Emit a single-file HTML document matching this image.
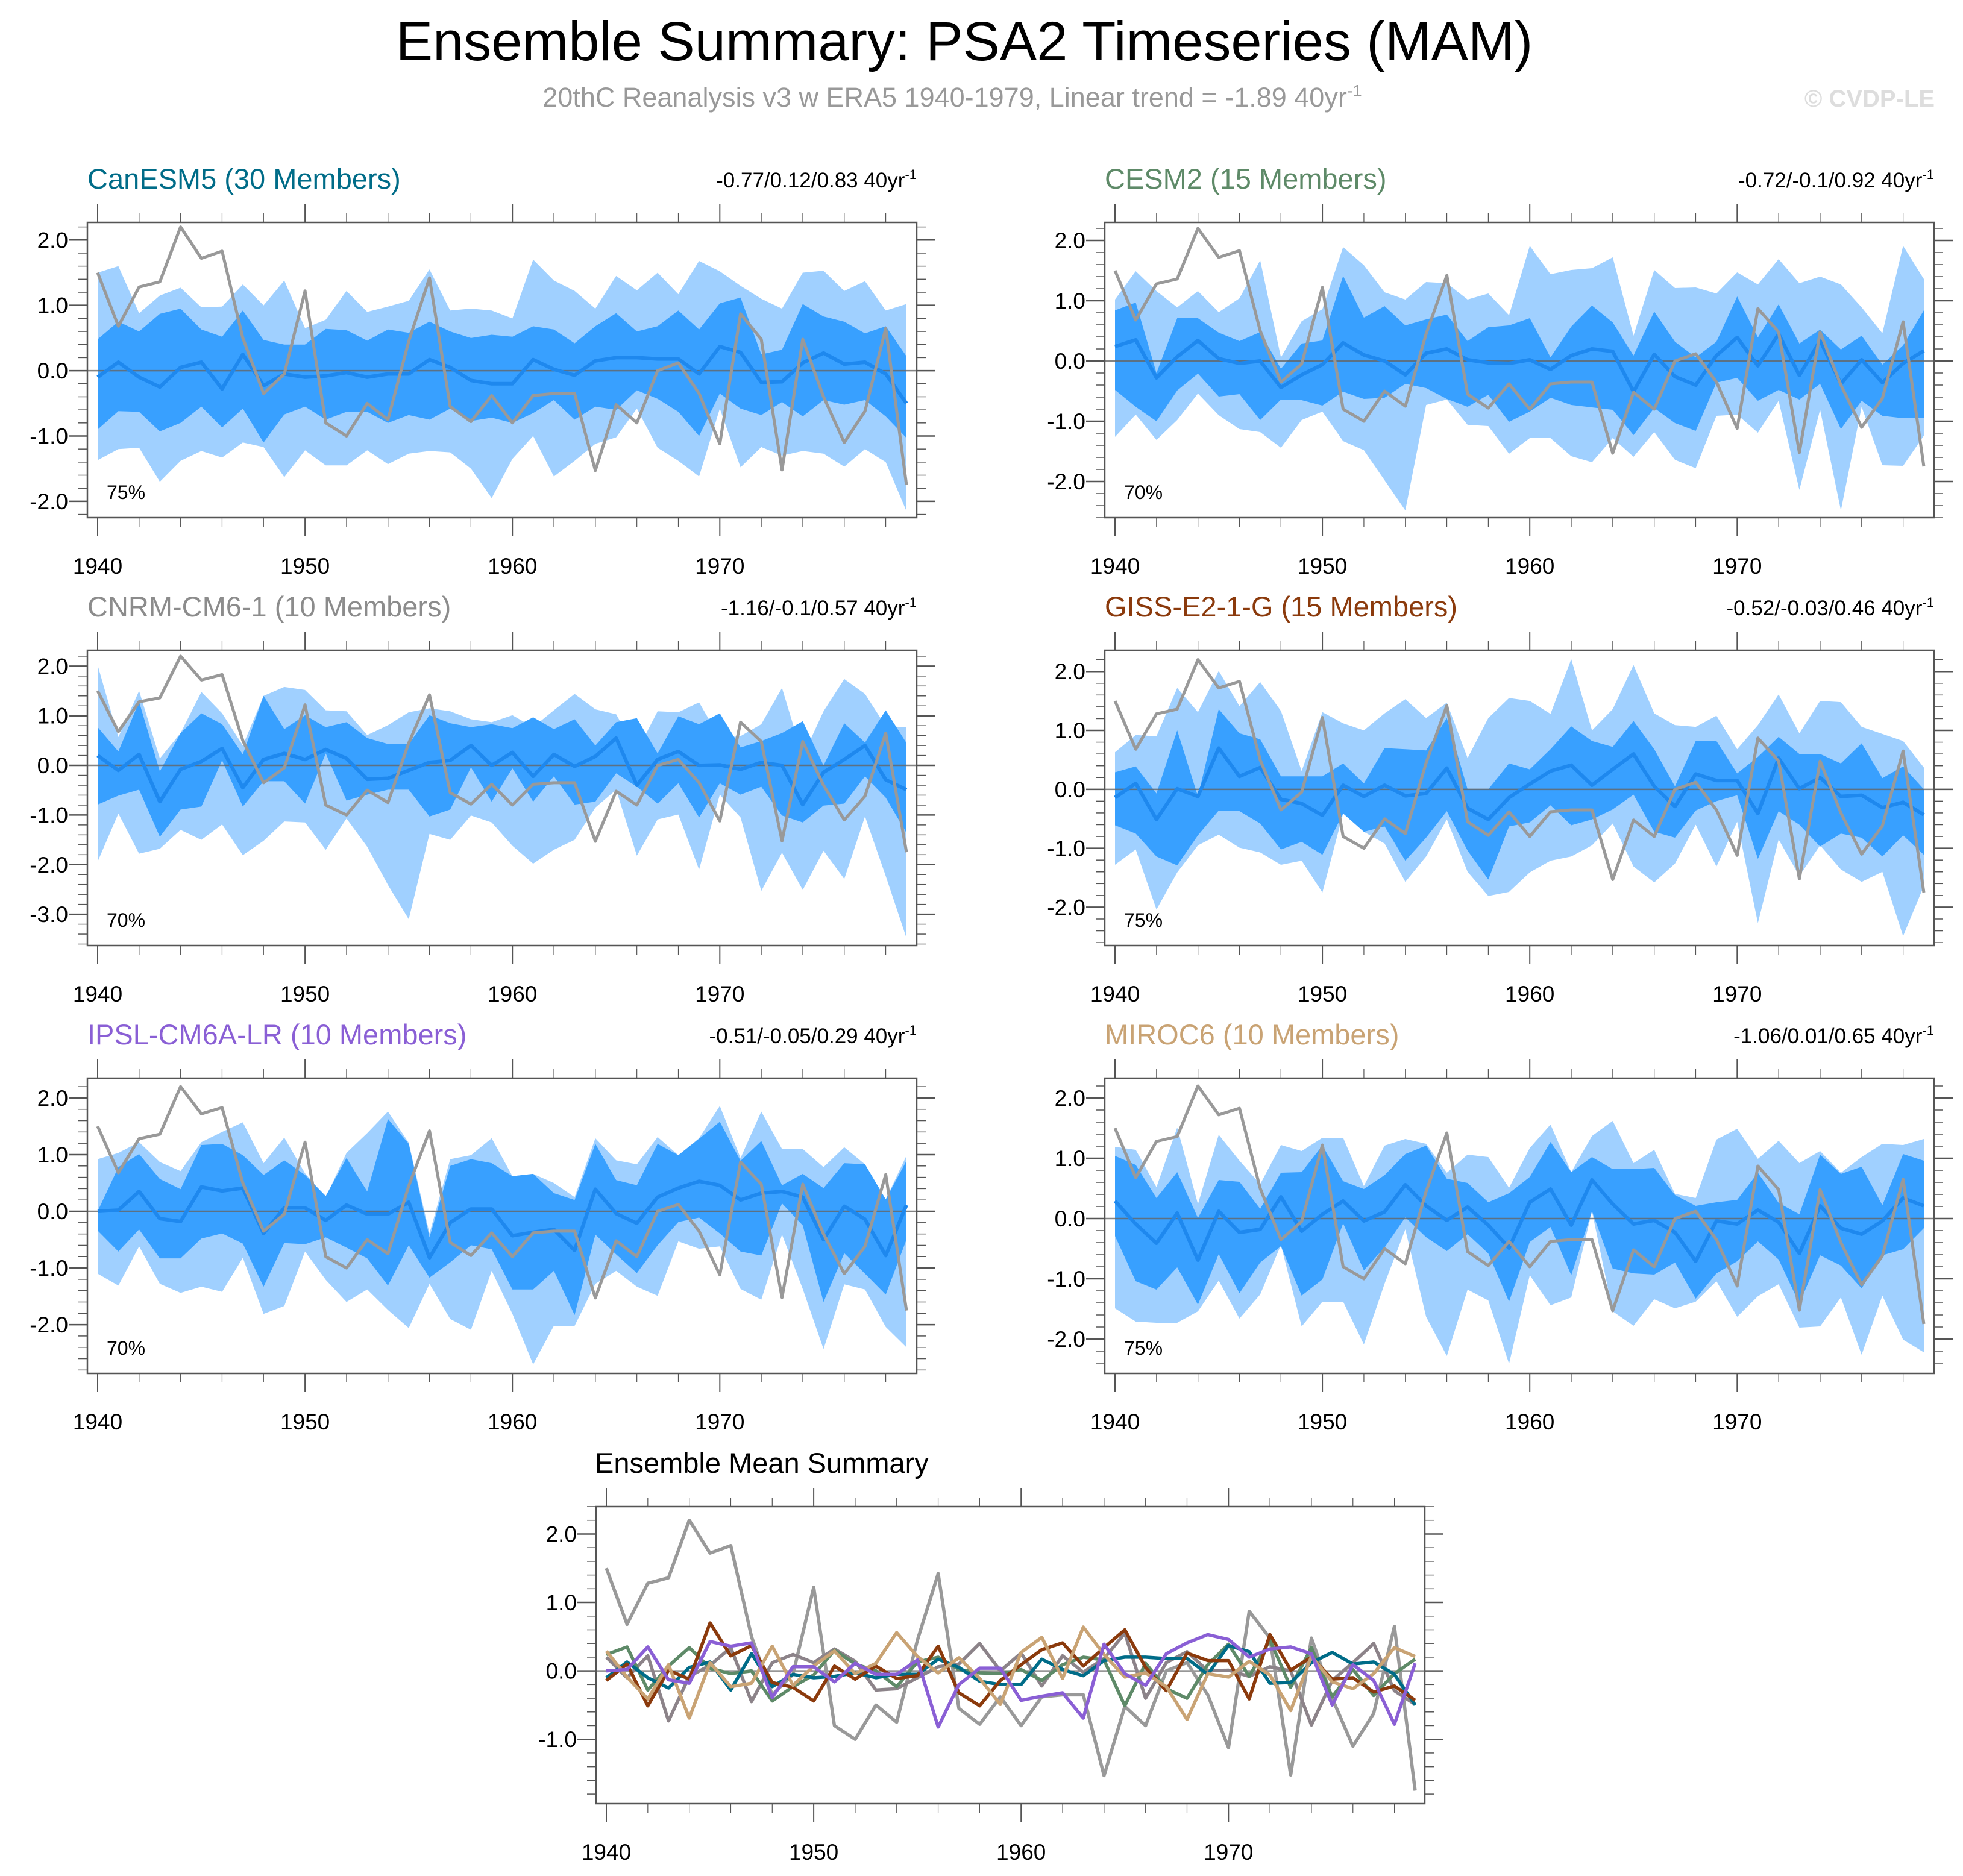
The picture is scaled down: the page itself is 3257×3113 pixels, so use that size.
<!DOCTYPE html>
<html><head><meta charset="utf-8">
<style>
html,body{margin:0;padding:0;background:#fff;}
svg{display:block;font-family:"Liberation Sans",Arial,sans-serif;}
</style></head>
<body>
<svg id="fig" width="3257" height="3113" viewBox="0 0 3257 3113" xmlns="http://www.w3.org/2000/svg">
<rect x="0" y="0" width="3257" height="3113" fill="#fff"/>
<text x="1600" y="100" font-size="92" text-anchor="middle" fill="#000">Ensemble Summary: PSA2 Timeseries (MAM)</text>
<text x="1580" y="177" font-size="45" text-anchor="middle" fill="#999">20thC Reanalysis v3 w ERA5 1940-1979, Linear trend = -1.89 40yr<tspan dy="-17" font-size="28">-1</tspan></text>
<text x="3210" y="177" font-size="40" font-weight="bold" text-anchor="end" fill="#ddd">© CVDP-LE</text>
</svg>
<script>
const years = [];
for (let y = 1940; y <= 1979; y++) years.push(y);
const obs = [1.5,0.68,1.28,1.36,2.2,1.72,1.83,0.5,-0.35,-0.05,1.22,-0.8,-1.0,-0.5,-0.75,0.45,1.42,-0.55,-0.78,-0.38,-0.8,-0.38,-0.35,-0.35,-1.53,-0.52,-0.8,0.0,0.12,-0.35,-1.12,0.87,0.48,-1.52,0.48,-0.4,-1.1,-0.62,0.65,-1.75];

const canMean = [-0.1,0.13,-0.1,-0.25,0.05,0.13,-0.28,0.25,-0.23,-0.05,-0.1,-0.08,-0.03,-0.1,-0.05,-0.05,0.17,0.05,-0.15,-0.2,-0.2,0.17,0.02,-0.07,0.15,0.2,0.2,0.18,0.18,-0.05,0.37,0.28,-0.18,-0.17,0.12,0.27,0.1,0.13,-0.05,-0.5];
const canDU = [0.48,0.75,0.6,0.87,0.95,0.63,0.52,0.92,0.47,0.4,0.4,0.64,0.62,0.46,0.63,0.58,0.75,0.6,0.5,0.55,0.52,0.68,0.63,0.42,0.68,0.88,0.6,0.68,0.92,0.63,1.03,1.12,0.25,0.32,1.02,0.83,0.75,0.57,0.68,0.22];
const canDL = [-0.9,-0.62,-0.63,-0.93,-0.8,-0.55,-0.87,-0.58,-1.1,-0.67,-0.55,-0.75,-0.63,-0.63,-0.8,-0.68,-0.75,-0.58,-0.77,-0.72,-0.8,-0.65,-0.45,-0.75,-0.55,-0.6,-0.3,-0.43,-0.63,-1.0,-0.35,-0.58,-0.68,-0.48,-0.7,-0.45,-0.52,-0.45,-0.7,-1.03];
const canLU = [1.5,1.6,0.88,1.15,1.27,0.97,0.98,1.32,1.0,1.38,0.65,0.78,1.22,0.9,0.98,1.07,1.55,0.92,0.95,0.92,0.8,1.7,1.38,1.22,0.95,1.45,1.23,1.5,1.17,1.68,1.52,1.3,1.1,0.95,1.5,1.53,1.22,1.37,0.92,1.02];
const canLL = [-1.37,-1.2,-1.18,-1.7,-1.38,-1.23,-1.33,-1.1,-1.17,-1.63,-1.22,-1.45,-1.45,-1.22,-1.43,-1.27,-1.23,-1.25,-1.5,-1.95,-1.35,-1.0,-1.62,-1.38,-1.12,-1.02,-0.58,-1.18,-1.38,-1.62,-0.58,-1.48,-1.17,-1.3,-1.23,-1.27,-1.47,-1.2,-1.4,-2.15];

const cesMean = [0.24,0.35,-0.28,0.07,0.34,0.04,-0.04,0.0,-0.44,-0.23,-0.06,0.3,0.1,0.0,-0.23,0.13,0.2,0.02,-0.03,-0.04,0.02,-0.14,0.09,0.2,0.16,-0.51,0.11,-0.26,-0.4,0.09,0.39,-0.08,0.45,-0.24,0.34,-0.38,0.02,-0.36,-0.04,0.17];
const cesDU = [0.84,0.97,-0.2,0.71,0.71,0.47,0.33,0.48,-0.13,0.29,0.34,1.41,0.72,0.91,0.59,0.69,0.77,0.33,0.56,0.59,0.71,0.06,0.57,0.92,0.64,0.09,0.82,0.32,0.06,0.32,1.07,0.39,0.94,0.29,0.52,0.19,0.42,-0.06,0.26,0.84];
const cesDL = [-0.48,-0.76,-1.0,-0.49,-0.21,-0.59,-0.55,-0.98,-0.64,-0.65,-0.74,-0.51,-0.63,-0.61,-0.38,-0.45,-0.63,-0.76,-0.56,-1.01,-0.84,-0.61,-0.73,-0.77,-0.81,-1.23,-0.78,-1.03,-1.16,-0.36,-0.28,-0.66,-0.48,-0.64,-0.38,-1.13,-0.66,-0.91,-0.95,-0.95];
const cesLU = [1.02,1.49,1.16,0.89,1.16,0.81,1.04,1.67,0.06,0.66,0.86,1.89,1.59,1.14,1.02,1.31,1.29,1.02,1.12,0.76,1.91,1.44,1.51,1.54,1.72,0.42,1.51,1.21,1.22,1.12,1.47,1.27,1.69,1.29,1.4,1.27,0.89,0.46,1.91,1.36];
const cesLL = [-1.26,-0.89,-1.31,-0.98,-0.54,-0.9,-1.13,-1.18,-1.44,-0.98,-0.84,-1.33,-1.48,-1.98,-2.48,-0.73,-0.64,-1.06,-1.08,-1.54,-1.28,-1.28,-1.58,-1.68,-1.28,-1.59,-1.18,-1.64,-1.78,-0.91,-0.89,-1.19,-0.66,-2.14,-0.81,-2.48,-0.76,-1.73,-1.74,-1.24];

const cnrmMean = [0.2,-0.1,0.22,-0.73,-0.08,0.08,0.34,-0.45,0.12,0.24,0.12,0.32,0.14,-0.28,-0.26,-0.1,0.06,0.1,0.4,0.0,0.26,-0.22,0.22,-0.02,0.18,0.55,-0.4,0.12,0.28,0.0,0.01,-0.08,0.06,0.0,-0.79,-0.14,0.12,0.4,-0.29,-0.49];
const cnrmDU = [0.77,0.28,1.28,-0.12,0.65,1.05,0.83,0.22,1.40,0.73,1.01,0.77,0.87,0.55,0.43,0.43,1.01,0.85,0.77,0.83,0.75,0.97,0.73,0.93,0.40,0.87,0.95,0.24,0.99,0.83,1.05,0.36,0.49,0.65,0.89,0.0,0.85,0.46,1.11,0.45];
const cnrmDL = [-0.79,-0.61,-0.49,-1.44,-0.89,-0.83,0.1,-0.83,-0.32,-0.32,-0.77,0.24,-0.71,-0.59,-0.49,-0.49,-1.03,-0.89,-0.04,-0.73,-0.06,-0.73,-0.22,-0.79,-0.73,-0.16,-0.43,-0.77,-0.36,-1.05,-0.36,-0.59,-0.43,-1.01,-1.15,-0.81,-0.77,-0.22,-0.65,-1.36];
const cnrmLU = [2.02,0.57,1.5,0.14,0.65,1.48,1.05,0.4,1.4,1.58,1.52,1.11,1.09,0.61,0.81,1.07,1.15,1.09,0.93,0.87,1.01,0.77,1.11,1.44,1.13,1.03,0.28,1.09,1.07,1.27,0.55,0.59,0.83,1.56,0.18,1.09,1.74,1.44,0.79,0.77];
const cnrmLL = [-1.94,-0.97,-1.78,-1.68,-1.3,-1.5,-1.19,-1.81,-1.52,-1.13,-1.15,-1.7,-1.07,-1.64,-2.41,-3.1,-1.38,-1.5,-1.01,-1.15,-1.62,-1.98,-1.7,-1.5,-0.85,-0.49,-1.82,-1.09,-0.99,-2.1,-0.59,-1.05,-2.53,-1.76,-2.51,-1.72,-2.29,-1.03,-2.23,-3.48];

const gissMean = [-0.14,0.1,-0.51,0.01,-0.12,0.70,0.22,0.37,-0.17,-0.24,-0.44,0.07,-0.12,0.07,-0.11,-0.07,0.36,-0.32,-0.51,-0.14,0.09,0.31,0.41,0.07,0.34,0.6,0.05,-0.29,0.26,0.15,0.15,-0.41,0.53,0.01,0.2,-0.12,-0.1,-0.31,-0.22,-0.43];
const gissDU = [0.29,0.39,-0.07,1.0,-0.12,1.36,0.95,0.85,0.22,0.22,0.22,0.44,0.1,0.70,0.68,0.66,1.21,0.0,0.0,0.44,0.34,0.68,1.07,0.82,0.72,1.16,0.68,0.05,0.82,0.82,0.27,0.55,0.89,0.6,0.6,0.44,0.78,0.19,0.39,0.0];
const gissDL = [-0.61,-0.75,-1.14,-1.29,-0.78,-0.36,-0.37,-0.58,-1.02,-0.89,-1.11,-0.41,-0.72,-0.63,-1.21,-0.82,-0.37,-1.04,-1.53,-0.63,-0.56,-0.27,-0.61,-0.51,-0.34,-0.09,-0.72,-0.82,-0.36,-0.2,-0.1,-1.18,-0.37,-0.6,-0.97,-0.75,-0.82,-1.14,-0.78,-1.11];
const gissLU = [0.63,0.92,0.90,1.72,1.31,2.01,1.41,1.82,1.33,0.31,1.31,1.12,1.0,1.29,1.53,1.21,1.47,0.53,1.21,1.55,1.5,1.28,2.21,1.0,1.36,2.11,1.29,1.09,1.06,1.25,0.68,1.09,1.61,0.95,1.5,1.48,1.06,0.94,0.82,0.37];
const gissLL = [-1.28,-1.02,-2.04,-1.41,-0.95,-0.77,-0.99,-1.07,-1.28,-1.21,-1.75,-0.41,-0.72,-0.92,-1.57,-1.14,-0.51,-1.40,-1.81,-1.74,-1.41,-1.21,-1.14,-0.95,-0.58,-1.31,-1.58,-1.26,-0.6,-1.31,-0.55,-2.27,-0.85,-1.47,-0.95,-1.36,-1.57,-1.4,-2.49,-1.64];

const ipslMean = [0,0.02,0.35,-0.13,-0.18,0.43,0.36,0.41,-0.39,0.06,0.06,-0.16,0.11,-0.05,-0.05,0.16,-0.82,-0.2,0.04,0.04,-0.43,-0.37,-0.32,-0.69,0.39,-0.04,-0.21,0.25,0.41,0.53,0.46,0.2,0.32,0.35,0.25,-0.5,0.09,-0.14,-0.78,0.11];
const ipslDU = [0.0,0.78,1.01,0.57,0.39,1.17,1.19,0.99,0.64,0.9,0.64,0.27,0.94,0.35,1.63,1.19,-0.46,0.8,0.92,0.85,0.62,0.66,0.32,0.2,1.19,0.55,0.46,1.19,0.99,1.28,1.58,0.89,1.24,0.46,0.66,0.41,0.85,0.83,0.21,0.89];
const ipslDL = [-0.34,-0.71,-0.32,-0.83,-0.83,-0.48,-0.39,-0.57,-1.33,-0.56,-0.58,-0.46,-0.64,-0.83,-1.31,-0.60,-1.17,-0.90,-0.60,-0.67,-1.38,-1.38,-1.05,-1.83,-0.41,-0.76,-1.09,-0.60,-0.19,-0.11,-0.39,-0.71,-0.78,0.14,-0.25,-1.6,-0.74,-1.1,-1.47,-0.5];
const ipslLU = [0.92,1.03,1.22,0.87,0.71,1.22,1.4,1.57,0.85,1.3,0.67,0.25,1.03,1.38,1.76,1.21,-0.39,0.92,0.99,1.29,0.62,0.66,0.5,0.25,1.29,0.9,0.83,1.31,0.99,1.29,1.86,0.94,1.76,1.1,1.1,0.78,1.13,0.83,0.21,0.98];
const ipslLL = [-1.10,-1.31,-0.62,-1.28,-1.44,-1.33,-1.42,-0.82,-1.81,-1.67,-0.71,-1.21,-1.6,-1.38,-1.74,-2.06,-1.28,-1.9,-2.09,-1.05,-1.81,-2.7,-2.02,-2.02,-1.28,-1.05,-1.33,-1.49,-0.53,-0.66,-0.62,-1.37,-1.56,-0.41,-1.37,-2.43,-1.29,-1.38,-2.04,-2.4];

const mirocMean = [0.29,-0.09,-0.41,0.09,-0.69,0.12,-0.23,-0.18,0.36,-0.21,0.07,0.29,-0.04,0.11,0.56,0.21,-0.03,0.19,-0.11,-0.49,0.27,0.49,-0.11,0.64,0.24,-0.09,-0.03,-0.23,-0.71,-0.04,-0.09,0.14,-0.06,-0.58,0.21,-0.16,-0.26,-0.04,0.34,0.21];
const mirocDU = [1.04,0.89,0.34,0.77,0.01,0.64,0.61,0.16,0.76,0.77,1.21,0.62,0.49,0.72,1.07,1.21,0.66,0.59,0.27,0.42,0.69,1.27,0.77,1.02,0.82,0.82,0.84,0.39,0.21,0.27,0.31,0.76,0.26,0.07,1.06,0.74,0.86,0.22,1.07,0.96];
const mirocDL = [-0.29,-1.04,-1.18,-0.81,-1.43,-0.59,-1.24,-0.73,-0.46,-1.28,-1.01,-0.08,-0.86,-0.48,0.02,-0.31,-0.54,-0.26,-0.58,-1.38,-0.39,-0.14,-0.94,0.12,-0.83,-0.91,-0.93,-0.73,-1.33,-0.91,-0.71,-0.38,-0.68,-1.41,-0.61,-0.78,-1.16,-0.61,-0.51,-0.16];
const mirocLU = [1.19,1.14,0.52,1.51,0.24,1.39,0.96,0.57,1.22,1.12,1.34,1.34,0.54,1.21,1.32,1.24,0.76,1.06,1.02,0.51,1.17,1.56,0.77,1.37,1.62,0.92,1.14,0.41,0.34,1.31,1.49,0.99,1.29,0.92,1.12,0.76,1.02,1.24,1.22,1.32];
const mirocLL = [-1.49,-1.71,-1.73,-1.73,-1.54,-1.03,-1.66,-1.26,-0.44,-1.79,-1.38,-1.38,-2.09,-1.08,-0.18,-1.63,-2.28,-1.18,-1.36,-2.41,-0.94,-1.44,-1.31,0.12,-1.54,-1.78,-1.34,-1.49,-1.38,-1.04,-1.63,-1.29,-1.09,-1.81,-1.79,-1.31,-2.26,-1.28,-2.01,-2.22];

const modelNames = ["CanESM5 (30 Members)","CESM2 (15 Members)","CNRM-CM6-1 (10 Members)","GISS-E2-1-G (15 Members)","IPSL-CM6A-LR (10 Members)","MIROC6 (10 Members)"];
const modelColors = ["#006c88","#5e8a68","#8c8c8c","#8b3a0c","#8a5fd5","#c9a374"];
const trendLabels = ["-0.77/0.12/0.83","-0.72/-0.1/0.92","-1.16/-0.1/0.57","-0.52/-0.03/0.46","-0.51/-0.05/0.29","-1.06/0.01/0.65"];
const pctLabels = ["75%","70%","70%","75%","70%","75%"];
const yMin = [-2.25,-2.6,-3.63,-2.65,-2.86,-2.57];
const yMax = [2.27,2.3,2.32,2.36,2.35,2.33];
const yTicks = [[-2,-1,0,1,2],[-2,-1,0,1,2],[-3,-2,-1,0,1,2],[-2,-1,0,1,2],[-2,-1,0,1,2],[-2,-1,0,1,2]];
const xTicks = [1940,1950,1960,1970];
const bandData = [
  [canMean,canDU,canDL,canLU,canLL],
  [cesMean,cesDU,cesDL,cesLU,cesLL],
  [cnrmMean,cnrmDU,cnrmDL,cnrmLU,cnrmLL],
  [gissMean,gissDU,gissDL,gissLU,gissLL],
  [ipslMean,ipslDU,ipslDL,ipslLU,ipslLL],
  [mirocMean,mirocDU,mirocDL,mirocLU,mirocLL]
];
const summaryMin = -1.94, summaryMax = 2.40;
const summaryTicks = [-1,0,1,2];

const NS = "http://www.w3.org/2000/svg";
const svg = document.getElementById("fig");
function mk(tag, attrs, parent) {
  const e = document.createElementNS(NS, tag);
  for (const k in attrs) e.setAttribute(k, attrs[k]);
  (parent || svg).appendChild(e);
  return e;
}
function fmt(v){ return v.toFixed(1); }

function drawAxes(g, L, T, W, H, xs, ys, ymin, ymax, ticks) {
  const R = L + W, B = T + H;
  for (let v = Math.ceil(ymin*5)/5; v <= ymax + 1e-9; v += 0.2) {
    const vv = Math.round(v*5)/5;
    const y = ys(vv);
    const major = Math.abs(vv - Math.round(vv)) < 1e-6;
    const len = major ? 31 : 15;
    const t1 = mk("line",{x1:L-len,y1:y,x2:L,y2:y,stroke:"#555","stroke-width":major?2.5:1.5},g);
    
    
    const t2 = mk("line",{x1:R,y1:y,x2:R+len,y2:y,stroke:"#555","stroke-width":major?2.5:1.5},g);
    
    
  }
  ticks.forEach(v => {
    const t = mk("text",{x:L-32,y:ys(v)+13,"font-size":37,"text-anchor":"end",fill:"#000"},g);
    t.textContent = fmt(v);
    
    
  });
  for (let yr = 1940; yr <= 1979; yr += 2) {
    const x = xs(yr);
    const major = (yr % 10) === 0;
    const len = major ? 31 : 15;
    const a = mk("line",{x1:x,y1:T-len,x2:x,y2:T,stroke:"#555","stroke-width":major?2:1.2},g);
    
    
    const b = mk("line",{x1:x,y1:B,x2:x,y2:B+len,stroke:"#555","stroke-width":major?2:1.2},g);
    
    
  }
  xTicks.forEach(yr => {
    const t = mk("text",{x:xs(yr),y:B+93,"font-size":37,"text-anchor":"middle",fill:"#000"},g);
    t.textContent = yr;
    
    
  });
  const fr = mk("rect",{x:L,y:T,width:W,height:H,fill:"none",stroke:"#555","stroke-width":2.5},g);
  
  
}

function linePts(arr, xs, ys){ return arr.map((v,i)=>xs(years[i]).toFixed(1)+","+ys(v).toFixed(1)).join(" "); }
function bandPts(up, lo, xs, ys){
  const a = up.map((v,i)=>xs(years[i]).toFixed(1)+","+ys(v).toFixed(1));
  const b = lo.map((v,i)=>xs(years[i]).toFixed(1)+","+ys(v).toFixed(1)).reverse();
  return a.concat(b).join(" ");
}

const colL = [145, 1833], rowT = [369, 1079, 1789];
const PW = 1376, PH = 490;
for (let p = 0; p < 6; p++) {
  const L = colL[p % 2], T = rowT[Math.floor(p / 2)];
  const g = mk("g",{});
  
  
  const x0 = L + 17, x1 = L + PW - 17;
  const xs = yr => x0 + (yr - 1940) * (x1 - x0) / 39;
  const ymin = yMin[p], ymax = yMax[p];
  const ys = v => T + (ymax - v) / (ymax - ymin) * PH;
  const [mean, du, dl, lu, ll] = bandData[p];
  const lb = mk("polygon",{points:bandPts(lu,ll,xs,ys),fill:"#a0d0ff"},g);
  
  
  const db = mk("polygon",{points:bandPts(du,dl,xs,ys),fill:"#38a0ff"},g);
  
  
  const zl = mk("line",{x1:L,y1:ys(0),x2:L+PW,y2:ys(0),stroke:"#666","stroke-width":2.5,opacity:0.8},g);
  
  
  const ml = mk("polyline",{points:linePts(mean,xs,ys),fill:"none",stroke:"#1e88ee","stroke-width":6,"stroke-linejoin":"round"},g);
  
  
  const ol = mk("polyline",{points:linePts(obs,xs,ys),fill:"none",stroke:"#999","stroke-width":5,"stroke-linejoin":"round"},g);
  
  
  drawAxes(g, L, T, PW, PH, xs, ys, ymin, ymax, yTicks[p]);
  const tt = mk("text",{x:L,y:T-56,"font-size":47,fill:modelColors[p]},g);
  tt.textContent = modelNames[p];
  
  
  const tr = mk("text",{x:L+PW,y:T-58,"font-size":35,"text-anchor":"end",fill:"#000"},g);
  tr.textContent = trendLabels[p] + " 40yr";
  const sup = mk("tspan",{dy:-14,"font-size":22},tr);
  sup.textContent = "-1";
  
  
  const pc = mk("text",{x:L+32,y:T+459,"font-size":32,fill:"#000"},g);
  pc.textContent = pctLabels[p];
  
  
}

(function(){
  const L = 989, T = 2500, W = 1375, H = 493;
  const g = mk("g",{});
  
  
  const x0 = 1006, x1 = 2348;
  const xs = yr => x0 + (yr - 1940) * (x1 - x0) / 39;
  const ys = v => T + (summaryMax - v) / (summaryMax - summaryMin) * H;
  const zl = mk("line",{x1:L,y1:ys(0),x2:L+W,y2:ys(0),stroke:"#888","stroke-width":2.5},g);
  
  
  const ol = mk("polyline",{points:linePts(obs,xs,ys),fill:"none",stroke:"#999","stroke-width":5.5,"stroke-linejoin":"round"},g);
  
  
  const order = [2,1,0,3,5,4];
  order.forEach(p => {
    const l = mk("polyline",{points:linePts(bandData[p][0],xs,ys),fill:"none",stroke:p===2?"#8c8389":modelColors[p],"stroke-width":5.5,"stroke-linejoin":"round"},g);
    
    
  });
  drawAxes(g, L, T, W, H, xs, ys, summaryMin, summaryMax, summaryTicks);
  const tt = mk("text",{x:987,y:2444,"font-size":47,fill:"#000"},g);
  tt.textContent = "Ensemble Mean Summary";
  
  
})();
</script>
</body></html>
